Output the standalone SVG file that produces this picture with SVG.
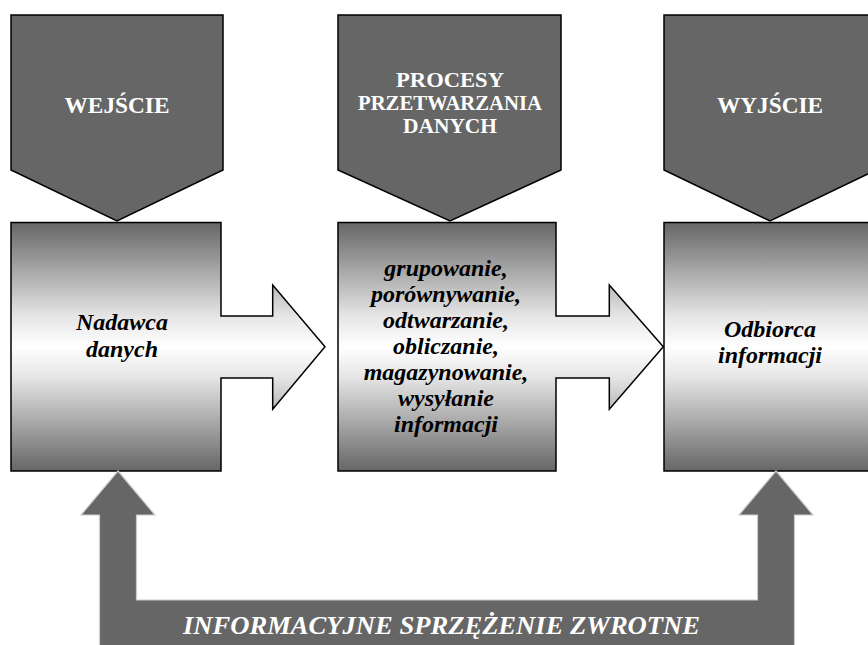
<svg xmlns="http://www.w3.org/2000/svg" width="868" height="645" viewBox="0 0 868 645">
  <defs>
    <linearGradient id="boxGrad" x1="0" y1="0" x2="0" y2="1">
      <stop offset="0" stop-color="#666666"/>
      <stop offset="0.38" stop-color="#e6e6e6"/>
      <stop offset="0.5" stop-color="#ffffff"/>
      <stop offset="0.62" stop-color="#e6e6e6"/>
      <stop offset="1" stop-color="#666666"/>
    </linearGradient>
  </defs>
  <style>
    .penta { fill: #666666; stroke: #000000; stroke-width: 1.5; stroke-linejoin: miter; }
    .box { fill: url(#boxGrad); stroke: #000000; stroke-width: 1.5; stroke-linejoin: miter; }
    .title { font-family: "Liberation Serif", "Times New Roman", serif; font-weight: bold; font-size: 23px; fill: #ffffff; text-anchor: middle; }
    .title2 { font-family: "Liberation Serif", "Times New Roman", serif; font-weight: bold; font-size: 20px; fill: #ffffff; text-anchor: middle; }
    .label { font-family: "Liberation Serif", "Times New Roman", serif; font-weight: bold; font-style: italic; font-size: 24px; fill: #000000; text-anchor: middle; }
    .fb { fill: #666666; stroke: #cccccc; stroke-width: 1.2; }
    .fbtext { font-family: "Liberation Serif", "Times New Roman", serif; font-weight: bold; font-style: italic; font-size: 26px; fill: #ffffff; text-anchor: middle; }
  </style>

  <g id="wejscie">
    <polygon class="penta" points="11,15 223,15 223,170 117,221 11,170"/>
    <text class="title" x="117" y="113" textLength="105" lengthAdjust="spacingAndGlyphs">WEJŚCIE</text>
  </g>

  <g id="procesy">
    <polygon class="penta" points="338,15 561,15 561,170 450,221 338,170"/>
    <text class="title2" x="450" y="87" textLength="108" lengthAdjust="spacingAndGlyphs">PROCESY</text>
    <text class="title2" x="450" y="110" textLength="184" lengthAdjust="spacingAndGlyphs">PRZETWARZANIA</text>
    <text class="title2" x="450" y="133" textLength="94" lengthAdjust="spacingAndGlyphs">DANYCH</text>
  </g>

  <g id="wyjscie">
    <polygon class="penta" points="664,15 876,15 876,170 770,221 664,170"/>
    <text class="title" x="770" y="113" textLength="106" lengthAdjust="spacingAndGlyphs">WYJŚCIE</text>
  </g>

  <g id="nadawca">
    <path class="box" d="M11,222.5 H221 V316 H272.7 V285 L325,346.7 L272.7,409.3 V378 H221 V471 H11 Z"/>
    <text class="label" x="122" y="330">Nadawca</text>
    <text class="label" x="122" y="357">danych</text>
  </g>

  <g id="procesy-box">
    <path class="box" d="M338,222.5 H556 V316 H609.3 V285 L663.3,346.7 L609.3,409.3 V378 H556 V471 H338 Z"/>
    <text class="label" x="446" y="276">grupowanie,</text>
    <text class="label" x="446" y="302">porównywanie,</text>
    <text class="label" x="446" y="328">odtwarzanie,</text>
    <text class="label" x="446" y="354">obliczanie,</text>
    <text class="label" x="446" y="380">magazynowanie,</text>
    <text class="label" x="446" y="406">wysyłanie</text>
    <text class="label" x="446" y="432">informacji</text>
  </g>

  <g id="odbiorca">
    <rect class="box" x="664" y="222.5" width="212" height="248.5"/>
    <text class="label" x="770" y="337">Odbiorca</text>
    <text class="label" x="770" y="363">informacji</text>
  </g>

  <g id="connectors">
    <path class="fb" d="M118,471 L155,515 H136.5 V600 H757.5 V515 H739 L776,471 L813,515 H794.5 V652 H99.5 V515 H81 Z"/>
    <text class="fbtext" x="441.5" y="634" textLength="517" lengthAdjust="spacingAndGlyphs">INFORMACYJNE SPRZĘŻENIE ZWROTNE</text>
  </g>
</svg>
